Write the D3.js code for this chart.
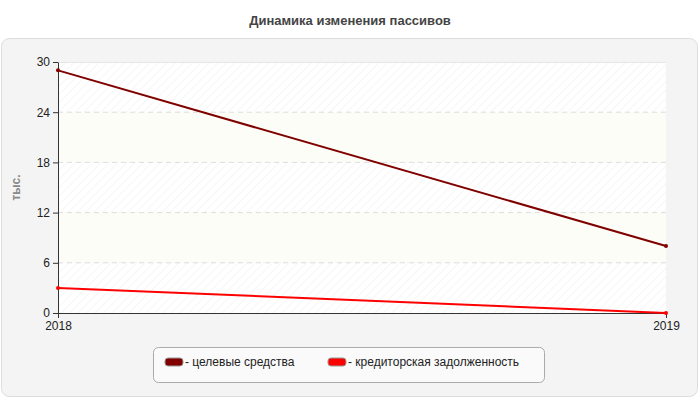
<!DOCTYPE html><html><head><meta charset="utf-8"><script src="https://cdn.jsdelivr.net/npm/d3@7"></script>
<style>body{margin:0;background:#fff}text{font-family:Arial,"Liberation Sans",sans-serif}</style></head><body>
<svg id="c" width="700" height="400"></svg>
<script>
const categories=["2018","2019"];
const seriesNames=["целевые средства","кредиторская задолженность"];
const celevye=[29,8];
const kredit=[3,0];
const yTicks=[0,6,12,18,24,30];
const colors=["#800000","#ff0000"];
const svg=d3.select("#c");
const defs=svg.append("defs");
const p=defs.append("pattern").attr("id","h").attr("width",6).attr("height",6).attr("patternUnits","userSpaceOnUse").attr("patternTransform","rotate(45)");
p.append("rect").attr("width",6).attr("height",6).attr("fill","#fff");
p.append("line").attr("x1",0).attr("y1",0).attr("x2",0).attr("y2",6).attr("stroke","#eee").attr("stroke-width",1);
svg.append("text").attr("x",350).attr("y",25).attr("text-anchor","middle").attr("font-size",13).attr("font-weight","bold").attr("fill","#444").text("Динамика изменения пассивов");
svg.append("rect").attr("x",1.5).attr("y",38.5).attr("width",696).attr("height",358).attr("rx",8).attr("fill","#f4f4f4").attr("stroke","#ddd");
const L=58,R=666,T=62,B=313;
const x=d3.scalePoint().domain(categories).range([L,R]);
const y=d3.scaleLinear().domain([0,30]).range([B,T]);
for(let i=0;i<yTicks.length-1;i++){
 svg.append("rect").attr("x",L).attr("width",R-L).attr("y",y(yTicks[i+1])).attr("height",y(yTicks[i])-y(yTicks[i+1])).attr("fill",i%2==0?"url(#h)":"#fdfdf7");
}
svg.append("g").selectAll("line").data(yTicks.slice(1,-1)).join("line").attr("x1",L).attr("x2",R).attr("y1",d=>y(d)).attr("y2",d=>y(d)).attr("stroke","#ddd").attr("stroke-dasharray","5,4");
svg.append("line").attr("x1",L).attr("x2",R).attr("y1",T+.5).attr("y2",T+.5).attr("stroke","#e6e6e6");
const ya=svg.append("g").attr("transform",`translate(${L},0)`).call(d3.axisLeft(y).tickValues(yTicks).tickSize(5).tickSizeOuter(0));
const xa=svg.append("g").attr("transform",`translate(0,${B})`).call(d3.axisBottom(x).tickSize(5).tickSizeOuter(0));
[ya,xa].forEach(a=>{a.selectAll("text").attr("font-size",12).attr("fill","#222");a.selectAll("path,line").attr("stroke","#333");});
svg.append("text").attr("transform",`translate(20,${(T+B)/2}) rotate(-90)`).attr("text-anchor","middle").attr("font-size",12).attr("font-weight","bold").attr("fill","#888").text("тыс.");
[celevye,kredit].forEach((s,i)=>{
 svg.append("path").datum(s).attr("fill","none").attr("stroke",colors[i]).attr("stroke-width",2).attr("d",d3.line().x((d,j)=>x(categories[j])).y(d=>y(d)));
 svg.append("g").selectAll("circle").data(s).join("circle").attr("cx",(d,j)=>x(categories[j])).attr("cy",d=>y(d)).attr("r",2).attr("fill",colors[i]);
});
svg.append("rect").attr("x",153.5).attr("y",347.5).attr("width",391).attr("height",35).attr("rx",5).attr("fill","#fafafa").attr("stroke","#aaa");
const lx=[165,328];
seriesNames.forEach((n,i)=>{
 svg.append("rect").attr("x",lx[i]).attr("y",358).attr("width",18).attr("height",8).attr("rx",3).attr("fill",colors[i]).attr("stroke","#999");
 svg.append("text").attr("x",lx[i]+20).attr("y",366).attr("font-size",12).attr("fill","#222").text("- "+n);
});
</script></body></html>
